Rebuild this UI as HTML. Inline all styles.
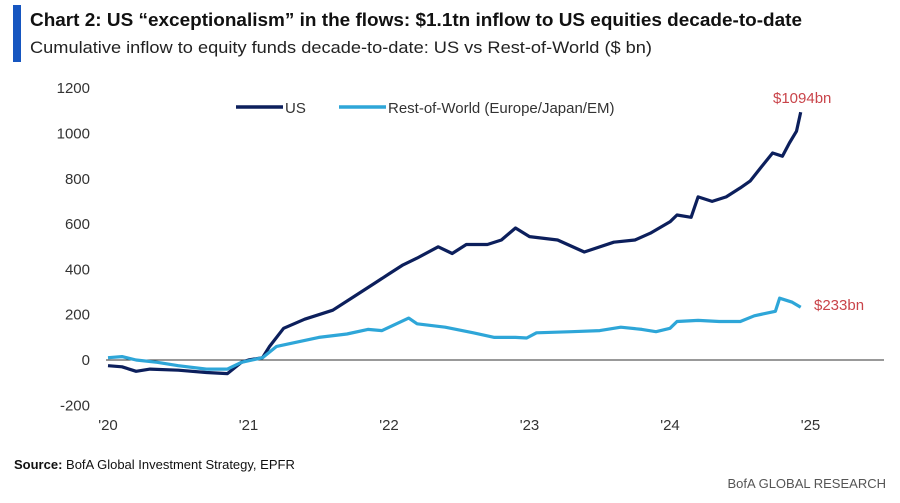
<!DOCTYPE html>
<html><head><meta charset="utf-8"><style>
body{margin:0;background:#fff;width:900px;height:498px;overflow:hidden;font-family:"Liberation Sans",sans-serif}
</style></head><body>
<svg id="c" width="900" height="498">
<rect x="13" y="5" width="8" height="57" fill="#1656c0"/>
<text x="30" y="26" font-size="18.5" font-weight="bold" fill="#111" textLength="772" lengthAdjust="spacingAndGlyphs">Chart 2: US “exceptionalism” in the flows: $1.1tn inflow to US equities decade-to-date</text>
<text x="30" y="53" font-size="17" fill="#222" textLength="622" lengthAdjust="spacingAndGlyphs">Cumulative inflow to equity funds decade-to-date: US vs Rest-of-World ($ bn)</text>
<g id="yt"></g>
<g id="xt"></g>
<line x1="106" y1="360" x2="884" y2="360" stroke="#333" stroke-width="1"/>
<g>
<g><line x1="236" y1="107" x2="283" y2="107" stroke="#0c1f5c" stroke-width="3.5"/><text x="285" y="113" font-size="15" fill="#333">US</text></g>
<g><line x1="339" y1="107" x2="386" y2="107" stroke="#2ea6d8" stroke-width="3.5"/><text x="388" y="113" font-size="15" fill="#333">Rest-of-World (Europe/Japan/EM)</text></g>
</g>
<text x="773" y="103" font-size="15" fill="#c9444a">$1094bn</text>
<text x="814" y="310" font-size="15" fill="#c9444a">$233bn</text>
<text x="14" y="469" font-size="13" fill="#111"><tspan font-weight="bold">Source:</tspan> BofA Global Investment Strategy, EPFR</text>
<text x="886" y="488" font-size="13" fill="#555" text-anchor="end">BofA GLOBAL RESEARCH</text>
</svg>
<script>
const yTicks=[-200,0,200,400,600,800,1000,1200];
const xTicks=["'20","'21","'22","'23","'24","'25"];
const xTickYears=[2020,2021,2022,2023,2024,2025];
const usYears=[2020.0,2020.1,2020.2,2020.3,2020.5,2020.7,2020.85,2020.95,2021.0,2021.1,2021.15,2021.25,2021.4,2021.5,2021.6,2021.75,2021.9,2022.0,2022.1,2022.2,2022.35,2022.45,2022.55,2022.7,2022.8,2022.9,2023.0,2023.2,2023.39,2023.6,2023.75,2023.86,2024.0,2024.05,2024.15,2024.2,2024.3,2024.4,2024.5,2024.57,2024.65,2024.73,2024.8,2024.85,2024.9,2024.93];
const usValues=[-25,-30,-50,-40,-45,-55,-60,-10,0,10,60,140,180,200,220,280,340,380,420,450,500,470,510,510,530,583,545,530,477,520,530,560,610,640,630,720,700,720,760,790,852,914,900,958,1010,1094];
const rowYears=[2020.0,2020.1,2020.2,2020.35,2020.5,2020.7,2020.85,2020.95,2021.1,2021.2,2021.35,2021.5,2021.7,2021.85,2021.95,2022.14,2022.2,2022.4,2022.6,2022.75,2022.9,2022.98,2023.05,2023.3,2023.5,2023.65,2023.8,2023.9,2024.0,2024.05,2024.2,2024.35,2024.5,2024.6,2024.75,2024.78,2024.87,2024.93];
const rowValues=[10,15,0,-10,-25,-40,-40,-10,10,60,80,100,115,135,130,185,160,145,120,100,100,97,120,125,130,145,135,125,140,170,175,170,170,195,215,273,255,233];
const NS='http://www.w3.org/2000/svg';
const svg=document.getElementById('c');
const X=y=>108+(y-2020)*140.5;
const Y=v=>360-v*0.2265;
const yt=document.getElementById('yt'),xt=document.getElementById('xt');
yTicks.forEach(v=>{const t=document.createElementNS(NS,'text');
t.setAttribute('x',90);t.setAttribute('y',Y(v)+5);t.setAttribute('text-anchor','end');t.setAttribute('font-size','15');t.setAttribute('fill','#333');


t.textContent=v;yt.appendChild(t);});
xTicks.forEach((s,i)=>{const t=document.createElementNS(NS,'text');
t.setAttribute('x',X(xTickYears[i]));t.setAttribute('y',430);t.setAttribute('text-anchor','middle');t.setAttribute('font-size','15');t.setAttribute('fill','#333');


t.textContent=s;xt.appendChild(t);});
function line(xs,vs,col,name){const p=document.createElementNS(NS,'path');
p.setAttribute('d',xs.map((x,i)=>(i?'L':'M')+X(x).toFixed(1)+','+Y(vs[i]).toFixed(1)).join(''));
p.setAttribute('fill','none');p.setAttribute('stroke',col);p.setAttribute('stroke-width','3.2');p.setAttribute('stroke-linejoin','round');


svg.appendChild(p);}
line(usYears,usValues,'#0c1f5c','us-series-line');
line(rowYears,rowValues,'#2ea6d8','row-series-line');
</script>
</body></html>
